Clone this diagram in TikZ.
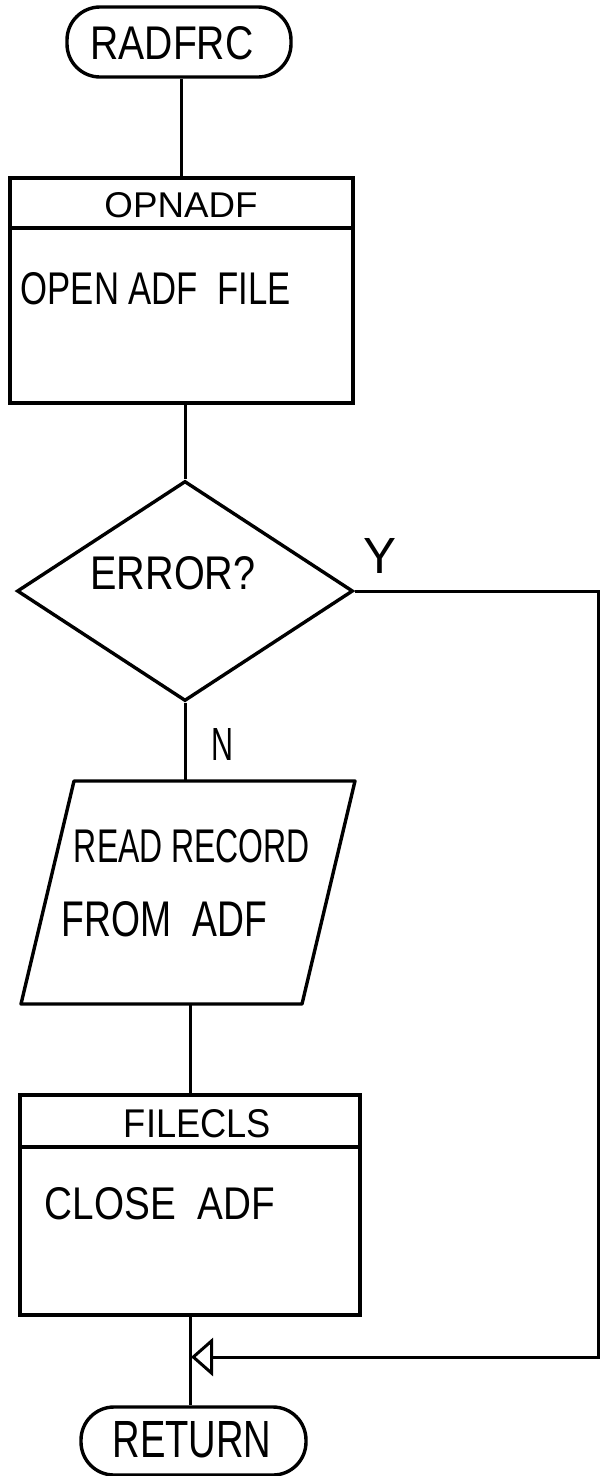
\documentclass[tikz,border=0pt]{standalone}
\usepackage{fontspec}
\setmainfont{Liberation Sans}
\usepackage{graphicx}
\usetikzlibrary{shapes.geometric,arrows.meta}
\newcommand{\hw}[3]{\resizebox{#1pt}{#2pt}{#3}}
\begin{document}
\begin{tikzpicture}[x=1pt,y=-1pt,line width=3.4pt,
  term/.style={draw,rounded corners=33pt,inner sep=0pt},
  procbox/.style={draw,inner sep=0pt},
  txt/.style={inner sep=0pt},
  conn/.style={line width=3pt}]
\useasboundingbox (0,0) rectangle (605,1476);
% start terminal
\node[term,minimum width=224pt,minimum height=70pt] (start) at (179,42) {};
\node[txt] (startt) at (172,43) {\hw{163}{33}{RADFRC}};
% OPNADF box
\node[procbox,minimum width=343pt,minimum height=225pt] (opn) at (181.5,290.5) {};
\draw (opn.west |- 0,228) -- (opn.east |- 0,228);
\node[txt] (opnt) at (181,205) {\hw{153}{25}{OPNADF}};
\node[txt,anchor=west] (opnb) at (19,289) {\hw{270}{32}{OPEN ADF\ \ FILE}};
% decision
\node[draw,diamond,aspect=1.527,minimum width=336pt,minimum height=220pt,inner sep=0pt] (err) at (185,591) {};
\node[txt] (errt) at (173,573) {\hw{165}{33}{ERROR?}};
\node[txt] (ylab) at (380,556) {\hw{33}{35}{Y}};
\node[txt] (nlab) at (222,744) {\hw{22}{32}{N}};
% read parallelogram
\coordinate (rdtl) at (74,781);
\coordinate (rdtr) at (355,781);
\coordinate (rdbr) at (302,1004);
\coordinate (rdbl) at (21,1004);
\draw[line join=round] (rdtl) -- (rdtr) -- (rdbr) -- (rdbl) -- cycle;
\coordinate (rdn) at (188,781);
\coordinate (rds) at (190,1004);
\node[txt] (rdt1) at (192,846) {\hw{236}{33}{READ RECORD}};
\node[txt] (rdt2) at (164.5,919.5) {\hw{205}{35}{FROM\ \ ADF}};
% FILECLS box
\node[procbox,minimum width=340pt,minimum height=220pt] (cls) at (190,1205) {};
\draw (cls.west |- 0,1147) -- (cls.east |- 0,1147);
\node[txt] (clst) at (197.5,1124) {\hw{147}{28}{FILECLS}};
\node[txt,anchor=west] (clsb) at (43,1204) {\hw{230}{32}{CLOSE\ \ ADF}};
% return terminal
\node[term,minimum width=225pt,minimum height=68pt] (ret) at (193.5,1441) {};
\node[txt] (rett) at (192,1440) {\hw{159}{36}{RETURN}};
% connectors
\draw[conn] (start.south -| opn.north) -- (opn.north);
\draw[conn] (err.north |- opn.south) -- (err.north);
\draw[conn] (err.south) -- (err.south |- rdn);
\draw[conn] (rds) -- (rds |- cls.north);
\draw[conn] (cls.south) -- (cls.south |- ret.north);
\coordinate (yc) at (598,1357);
\coordinate (ym) at (191,1357);
\draw[conn,-{Triangle[open,length=22pt,width=38pt]}] (err.east) -| (yc) -- (ym);
\end{tikzpicture}
\end{document}
